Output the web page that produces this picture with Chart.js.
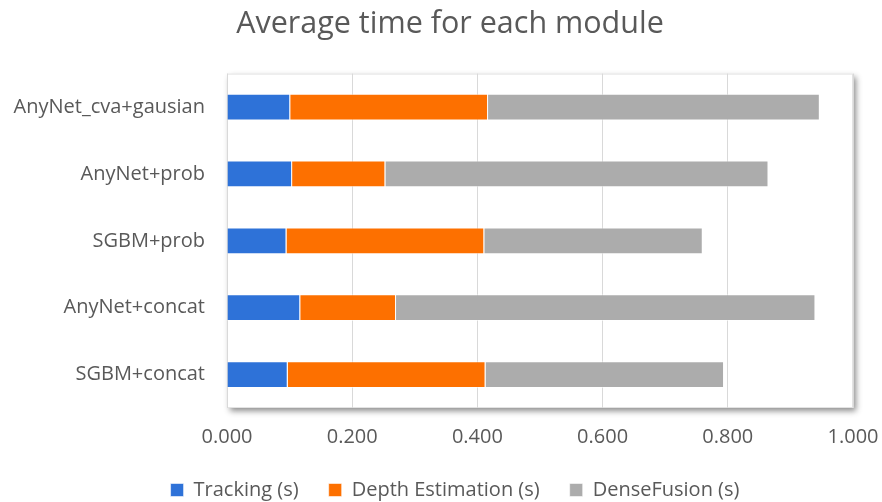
<!DOCTYPE html>
<html>
<head>
<meta charset="utf-8">
<title>Average time for each module</title>
<script src="https://cdn.jsdelivr.net/npm/chart.js@4.4.1/dist/chart.umd.min.js"></script>
<style>
  html, body { margin: 0; padding: 0; background: #fff; }
  #wrap { width: 882px; height: 502px; position: relative; }
</style>
</head>
<body>
<div id="wrap"><canvas id="moduleChart"></canvas></div>
<script>
  'use strict';

  // Configurations, top to bottom
  var categories = ['AnyNet_cva+gausian', 'AnyNet+prob', 'SGBM+prob', 'AnyNet+concat', 'SGBM+concat'];

  // Seconds per module
  var tracking = [0.101, 0.104, 0.095, 0.117, 0.097];
  var depthEstimation = [0.316, 0.149, 0.316, 0.153, 0.316];
  var denseFusion = [0.530, 0.612, 0.349, 0.670, 0.381];

  var xTicks = [0, 0.2, 0.4, 0.6, 0.8, 1.0];

  var TEXT = '#595959';
  var FONT = "'Open Sans', 'Noto Sans', sans-serif";

  // white plot panel with a soft drop shadow, drawn under the grid
  var panelShadow = {
    id: 'panelShadow',
    afterLayout: function (chart) {
      // title and legend sit centred on the plot rather than the canvas
      if (chart.titleBlock) { chart.titleBlock.left += 9; chart.titleBlock.right += 9; }
      if (chart.legend) { chart.legend.left += 14; chart.legend.right += 14; }
    },
    beforeDraw: function (chart) {
      var a = chart.chartArea;
      var ctx = chart.ctx;
      ctx.save();
      ctx.shadowColor = 'rgba(0,0,0,0.45)';
      ctx.shadowBlur = 6;
      ctx.shadowOffsetX = 3;
      ctx.shadowOffsetY = 3;
      ctx.fillStyle = '#ffffff';
      ctx.fillRect(a.left, a.top, a.right - a.left, a.bottom - a.top);
      ctx.restore();
      ctx.save();
      ctx.strokeStyle = '#e3e3e3';
      ctx.lineWidth = 1;
      ctx.strokeRect(a.left + 0.5, a.top + 0.5, a.right - a.left - 1, a.bottom - a.top - 1);
      ctx.restore();
    }
  };

  function dataset(label, values, color) {
    return {
      label: label,
      data: values,
      backgroundColor: color,
      borderColor: 'rgba(255,255,255,0.55)',
      borderWidth: 1,
      barPercentage: 0.4,
      categoryPercentage: 1.0
    };
  }

  new Chart(document.getElementById('moduleChart').getContext('2d'), {
    type: 'bar',
    data: {
      labels: categories,
      datasets: [
        dataset('Tracking (s)', tracking, '#2e72d8'),
        dataset('Depth Estimation (s)', depthEstimation, '#fd7000'),
        dataset('DenseFusion (s)', denseFusion, '#acacac')
      ]
    },
    options: {
      indexAxis: 'y',
      responsive: true,
      maintainAspectRatio: false,
      animation: false,
      layout: { padding: { top: 0, right: 0, bottom: -8, left: 0 } },
      plugins: {
        title: {
          display: true,
          text: 'Average time for each module',
          color: TEXT,
          font: { family: FONT, size: 30.5, weight: 'normal' },
          padding: { top: 6, bottom: 31 }
        },
        legend: {
          position: 'bottom',
          labels: {
            color: TEXT,
            font: { family: FONT, size: 20 },
            boxWidth: 13,
            boxHeight: 13,
            padding: 30
          }
        },
        tooltip: { enabled: false }
      },
      scales: {
        x: {
          stacked: true,
          min: 0,
          max: 1,
          afterBuildTicks: function (scale) {
            scale.ticks = xTicks.map(function (v) { return { value: v }; });
          },
          ticks: {
            color: TEXT,
            font: { family: FONT, size: 20 },
            padding: 17,
            callback: function (v) { return Number(v).toFixed(3); }
          },
          grid: { color: '#d9d9d9', drawTicks: false },
          border: { display: false },
          afterFit: function (scale) {
            scale.height = 42;
            scale.paddingLeft = 0;
            scale.paddingRight = 29;
          }
        },
        y: {
          stacked: true,
          ticks: {
            color: TEXT,
            font: { family: FONT, size: 20 },
            padding: 22
          },
          grid: { display: false, drawTicks: false },
          border: { display: false },
          afterFit: function (scale) { scale.width = 227; }
        }
      }
    },
    plugins: [panelShadow]
  });
</script>
</body>
</html>
